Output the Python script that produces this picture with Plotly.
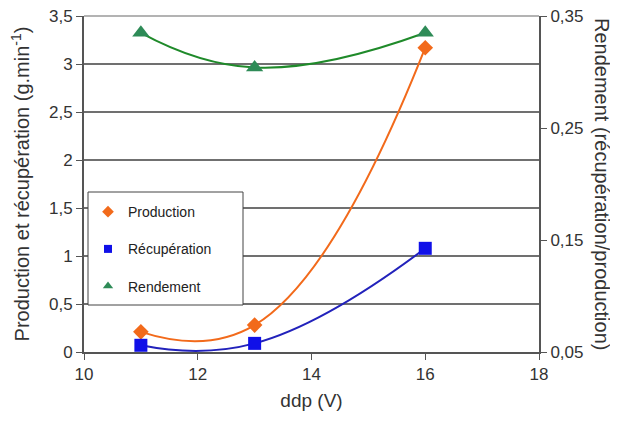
import plotly.graph_objects as go

ddp = [11, 13, 16]
production = [0.21, 0.28, 3.17]
recuperation = [0.07, 0.09, 1.08]
rendement = [0.335, 0.304, 0.335]

x_ticks = [10, 12, 14, 16, 18]
left_ticks = [0, 0.5, 1, 1.5, 2, 2.5, 3, 3.5]
right_ticks = [0.05, 0.15, 0.25, 0.35]

c_prod = "#f26a1b"
c_rec = "#1010e8"
c_ren = "#2e8b57"
axis_col = "#555555"
txt_col = "#333333"
FONT = "Liberation Sans, Arial, sans-serif"

fig = go.Figure()

# lines (smoothed)
fig.add_trace(go.Scatter(x=ddp, y=production, mode="lines", line=dict(color=c_prod, width=2, shape="spline", smoothing=1.3),
                         showlegend=False, hoverinfo="skip"))
fig.add_trace(go.Scatter(x=ddp, y=recuperation, mode="lines", line=dict(color="#2222bb", width=2, shape="spline", smoothing=1.3),
                         showlegend=False, hoverinfo="skip"))
fig.add_trace(go.Scatter(x=ddp, y=rendement, mode="lines", line=dict(color="#1f8a2a", width=2, shape="spline", smoothing=1.3),
                         showlegend=False, hoverinfo="skip", yaxis="y2"))

# markers on data
fig.add_trace(go.Scatter(x=ddp, y=production, mode="markers", showlegend=False,
                         marker=dict(symbol="diamond", size=12, color=c_prod)))
fig.add_trace(go.Scatter(x=ddp, y=recuperation, mode="markers", showlegend=False,
                         marker=dict(symbol="square", size=13, color=c_rec)))
fig.add_trace(go.Scatter(x=ddp, y=rendement, mode="markers", showlegend=False,
                         marker=dict(symbol="triangle-up", size=15, color=c_ren), yaxis="y2"))

# legend-only entries (smaller symbols)
fig.add_trace(go.Scatter(x=[None], y=[None], mode="markers", name="Production",
                         marker=dict(symbol="diamond", size=9, color=c_prod), legendgroup="a"))
fig.add_trace(go.Scatter(x=[None], y=[None], mode="markers", name="Récupération",
                         marker=dict(symbol="square", size=8, color=c_rec), legendgroup="b"))
fig.add_trace(go.Scatter(x=[None], y=[None], mode="markers", name="Rendement",
                         marker=dict(symbol="triangle-up", size=9, color=c_ren), legendgroup="c"))

fig.update_layout(
    width=610, height=417,
    margin=dict(l=76, r=79, t=8, b=73, autoexpand=False),
    paper_bgcolor="white", plot_bgcolor="white",
    separators=", ",
    font=dict(family=FONT, size=16, color=txt_col),
    xaxis=dict(range=[10, 18], tickvals=x_ticks, ticks="outside", ticklen=6, tickcolor=axis_col, automargin=False,
               showline=True, linecolor=axis_col, linewidth=2, showgrid=False, zeroline=False,
               title=dict(text="ddp (V)", font=dict(size=19), standoff=10),
               tickfont=dict(size=17), ticklabeloverflow="allow"),
    yaxis=dict(range=[0, 3.5], tickvals=left_ticks, ticks="outside", ticklen=6, tickcolor=axis_col, automargin=False,
               showline=True, linecolor=axis_col, linewidth=2, showgrid=True, gridcolor="#707070", gridwidth=1.5,
               zeroline=False, title=dict(text="Production et récupération (g.min<sup>-1</sup>)", font=dict(size=20), standoff=18),
               tickfont=dict(size=17), ticklabeloverflow="allow"),
    yaxis2=dict(range=[0.05, 0.35], tickvals=right_ticks, overlaying="y", side="right", ticks="outside", ticklen=6,
                tickcolor=axis_col, showline=True, linecolor=axis_col, linewidth=2, showgrid=False, zeroline=False,
                automargin=False, tickfont=dict(size=17), ticklabeloverflow="allow"),
    showlegend=True,
    legend=dict(x=4/455, y=0.464, xanchor="left", yanchor="top", bgcolor="rgba(0,0,0,0)", borderwidth=0,
                font=dict(family=FONT, size=14, color="#222222"), tracegroupgap=16, itemwidth=30),
    shapes=[
        dict(type="line", xref="paper", yref="paper", x0=0, x1=1, y0=1, y1=1,
             line=dict(color="#9a9a9a", width=1.5), layer="below"),
        dict(type="rect", xref="paper", yref="paper", x0=4/455, x1=159/455, y0=(352-305)/336, y1=(352-192)/336,
             line=dict(color="#444444", width=1), fillcolor="white", layer="above"),
    ],
    annotations=[dict(text="Rendement (récupération/production)", xref="paper", yref="paper",
                      x=1 + 63/455, y=0.5, textangle=90, showarrow=False, font=dict(size=20, color=txt_col),
                      xanchor="center", yanchor="middle")],
)

fig.write_html("out.html")
